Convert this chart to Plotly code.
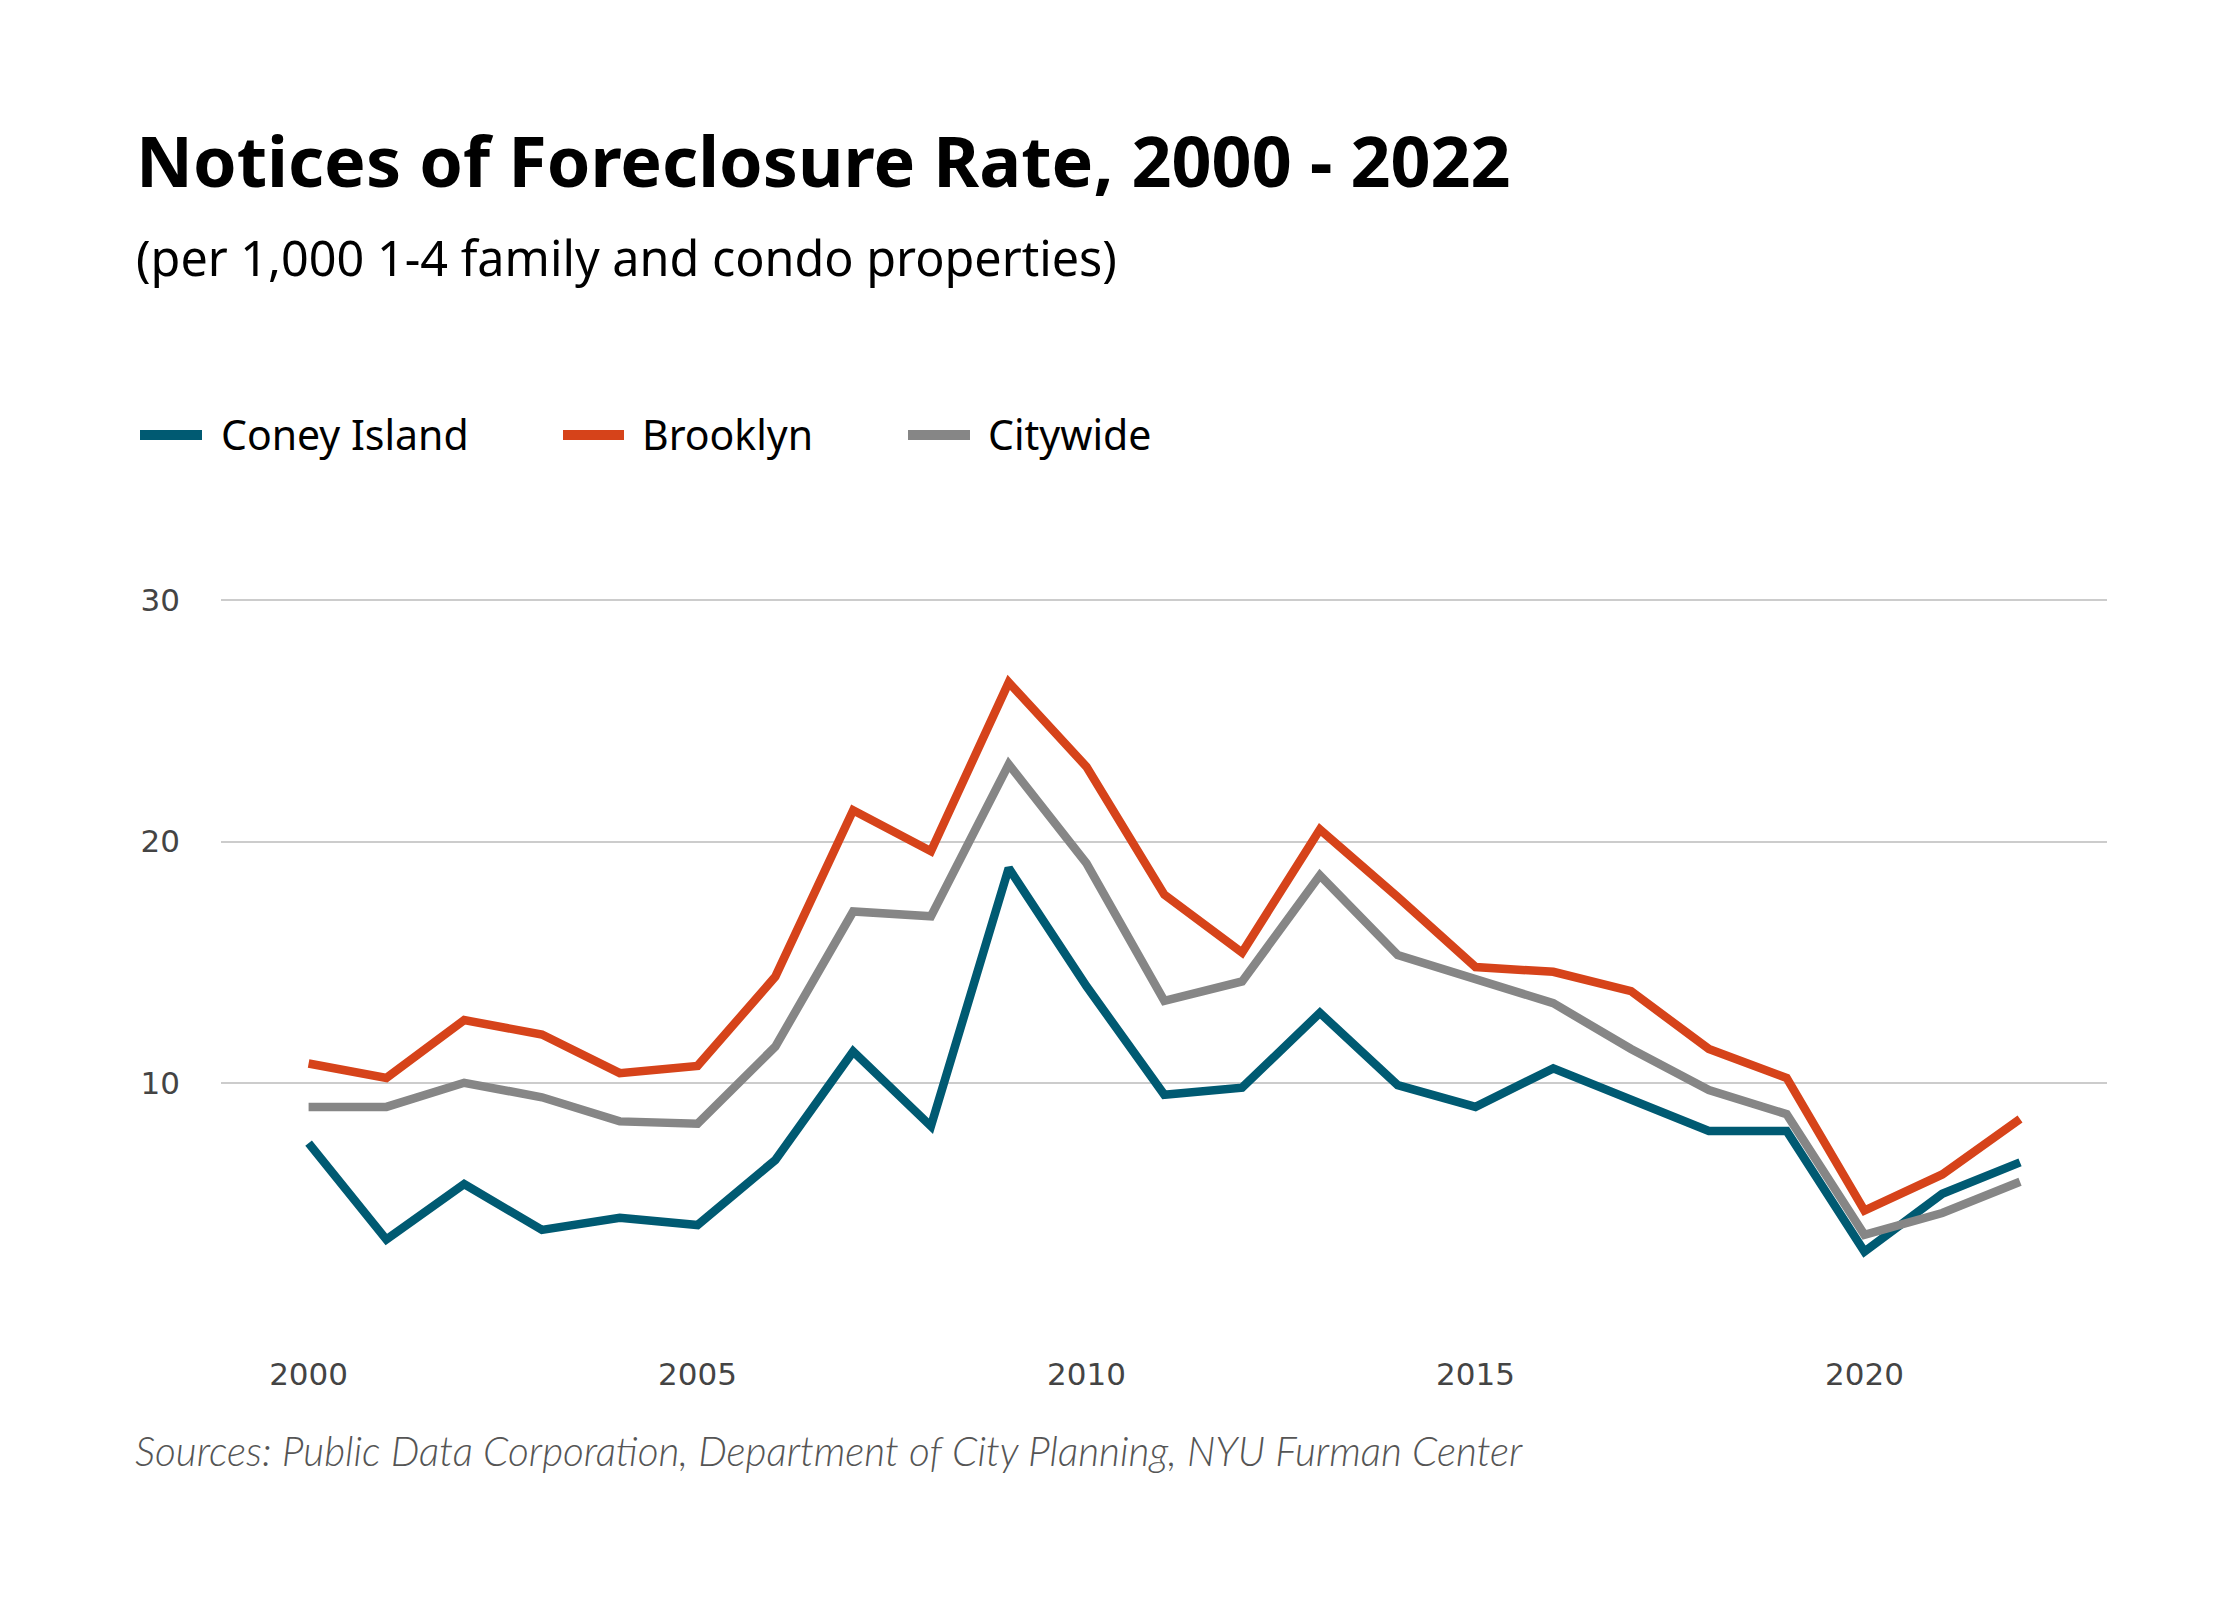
import plotly.graph_objects as go

years = list(range(2000, 2023))
coney_island = [7.5, 3.5, 5.8, 3.9, 4.4, 4.1, 6.8, 11.3, 8.2, 18.9, 14.0, 9.5, 9.8,
                12.9, 9.9, 9.0, 10.6, 9.3, 8.0, 8.0, 3.0, 5.4, 6.7]
brooklyn = [10.8, 10.2, 12.6, 12.0, 10.4, 10.7, 14.4, 21.3, 19.6, 26.6, 23.1, 17.8, 15.4,
            20.5, 17.7, 14.8, 14.6, 13.8, 11.4, 10.2, 4.7, 6.2, 8.5]
citywide = [9.0, 9.0, 10.0, 9.4, 8.4, 8.3, 11.5, 17.1, 16.9, 23.2, 19.1, 13.4, 14.2,
            18.6, 15.3, 14.3, 13.3, 11.4, 9.7, 8.7, 3.7, 4.6, 5.9]
series_names = ["Coney Island", "Brooklyn", "Citywide"]
series_colors = ["#005a72", "#d6431a", "#868686"]
x_ticks = [2000, 2005, 2010, 2015, 2020]
y_ticks = [10, 20, 30]

title = "Notices of Foreclosure Rate, 2000 - 2022"
subtitle = "(per 1,000 1-4 family and condo properties)"
source = "Sources: Public Data Corporation, Department of City Planning, NYU Furman Center"

W, H = 2240, 1600
OFF = 8  # page body margin
L, R, T, B = 221 - OFF, 133 + OFF, 590 - OFF, 276 + OFF
PW, PH = W - L - R, H - T - B


def px(x):
    return (x - OFF - L) / PW


def py(y):
    return (H - B - (y - OFF)) / PH


fig = go.Figure()
for name, vals, col in zip(series_names, [coney_island, brooklyn, citywide], series_colors):
    fig.add_trace(go.Scatter(x=years, y=vals, name=name, mode="lines",
                             line=dict(color=col, width=8.5), showlegend=False))

fig.update_layout(
    width=W, height=H,
    margin=dict(l=L, r=R, t=T, b=B),
    paper_bgcolor="white", plot_bgcolor="white",
    xaxis=dict(range=[1998.874, 2023.118], tickvals=x_ticks, showgrid=False, zeroline=False,
               showline=False, ticks="", ticklabelstandoff=29,
               tickfont=dict(family="DejaVu Sans", size=31, color="#444444")),
    yaxis=dict(range=[0, 30.43], tickvals=y_ticks, showgrid=True, gridcolor="#cccccc",
               gridwidth=2, zeroline=False, showline=False, ticks="", ticklabelstandoff=40,
               tickfont=dict(family="DejaVu Sans", size=31, color="#444444")),
)

ann = []
ann.append(dict(text="<b>" + title + "</b>", x=px(134), y=py(160), xref="paper", yref="paper",
                xanchor="left", yanchor="middle", showarrow=False,
                font=dict(family="Noto Sans", size=70, color="#000000")))
ann.append(dict(text=subtitle, x=px(134), y=py(257), xref="paper", yref="paper",
                xanchor="left", yanchor="middle", showarrow=False,
                font=dict(family="Noto Sans", size=48.5, color="#000000")))
ann.append(dict(text="<i>" + source + "</i>", x=px(133), y=py(1450), xref="paper", yref="paper",
                xanchor="left", yanchor="middle", showarrow=False,
                font=dict(family="Lato", size=40.5, color="#555555", weight=300)))

# legend drawn manually
legend_line_x = [(140, 202), (563, 624), (908, 970)]
legend_text_x = [219, 640, 986]
shapes = []
for (x0, x1), tx, name, col in zip(legend_line_x, legend_text_x, series_names, series_colors):
    shapes.append(dict(type="line", xref="paper", yref="paper", x0=px(x0), x1=px(x1),
                       y0=py(435), y1=py(435), line=dict(color=col, width=10)))
    ann.append(dict(text=name, x=px(tx), y=py(434), xref="paper", yref="paper",
                    xanchor="left", yanchor="middle", showarrow=False,
                    font=dict(family="Noto Sans", size=41, color="#000000")))

fig.update_layout(annotations=ann, shapes=shapes)
fig.write_html("out.html")
